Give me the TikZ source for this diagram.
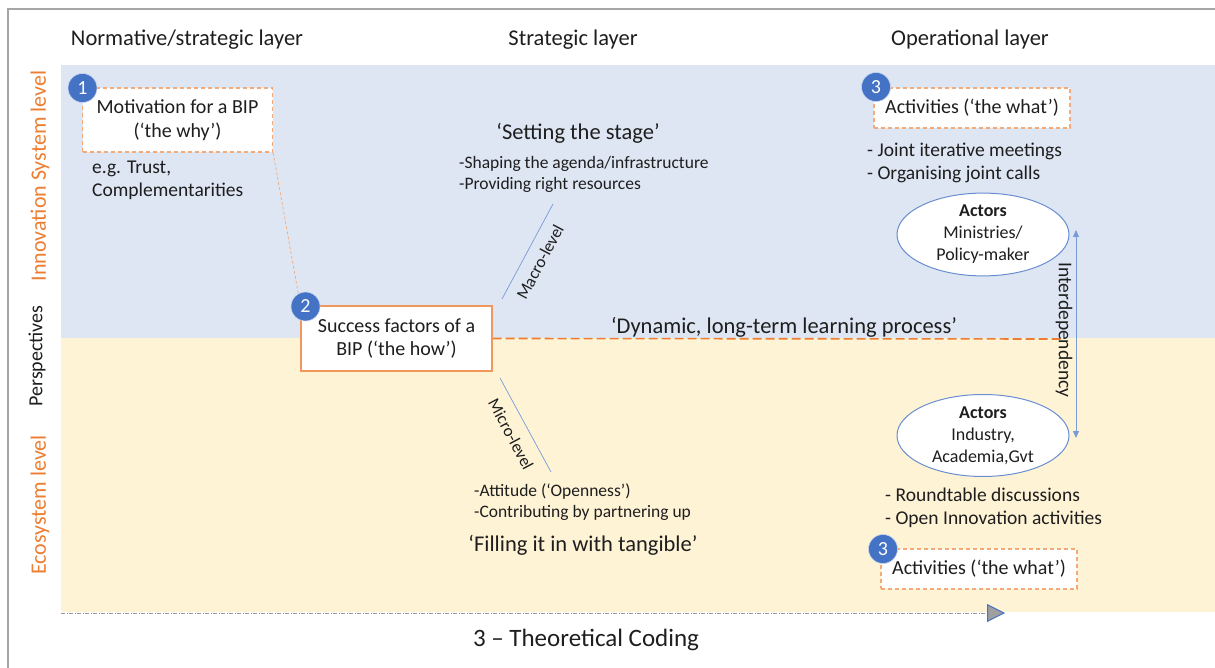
\documentclass[tikz,border=0pt]{standalone}
\usepackage{fontspec}
\setmainfont{Carlito}
\usetikzlibrary{arrows.meta,shapes.geometric,backgrounds}

\definecolor{bandblue}{RGB}{222,230,243}
\definecolor{bandyellow}{RGB}{255,243,214}
\definecolor{accent}{RGB}{237,125,49}
\definecolor{softaccent}{RGB}{244,170,120}
\definecolor{numblue}{RGB}{68,114,196}
\definecolor{linkblue}{RGB}{120,155,215}
\definecolor{framegray}{RGB}{166,166,166}
\definecolor{ink}{RGB}{30,30,30}

\tikzset{
  every node/.style={text=ink, inner sep=0pt},
  header/.style={font=\fontsize{22.5}{26}\selectfont},
  sidelabel/.style={font=\fontsize{22}{26}\selectfont, rotate=90, text=accent},
  body/.style={font=\fontsize{19.5}{23.5}\selectfont, align=left, anchor=west},
  smallbody/.style={font=\fontsize{17.5}{21.5}\selectfont, align=left, anchor=west},
  quote/.style={font=\fontsize{22.5}{26}\selectfont},
  dashbox/.style={draw=softaccent, dashed, dash pattern=on 4pt off 3pt, line width=1.2pt,
    fill=white, font=\fontsize{20}{24}\selectfont, align=center},
  solidbox/.style={draw=accent!80, line width=1.2pt, fill=white,
    font=\fontsize{20}{23}\selectfont, align=center},
  badge/.style={circle, fill=numblue, draw=white!70!numblue, line width=0.6pt,
    minimum size=29pt, text=white, font=\fontsize{20}{22}\selectfont},
  actor/.style={ellipse, draw=numblue!80, line width=1pt, fill=white,
    minimum width=172pt, minimum height=72pt, align=center,
    font=\fontsize{18}{22}\selectfont},
  levelline/.style={draw=linkblue, line width=0.7pt},
  levellabel/.style={font=\fontsize{17}{19}\selectfont}
}

\begin{document}
\begin{tikzpicture}[x=1pt, y=-1pt]
  \useasboundingbox (0,0) rectangle (1215,668);

  % frame edges
  \draw[framegray, line width=2pt] (1215,9) -- (7.5,9) -- (7.5,668);

  % column headers
  \node[header] (hnorm) at (187,40) {Normative/strategic layer};
  \node[header] (hstrat) at (573,40) {Strategic layer};
  \node[header] (hop) at (970,40) {Operational layer};

  % row labels
  \node[sidelabel] (lisys) at (40,176) {Innovation System level};
  \node[sidelabel, text=ink, font=\fontsize{20}{24}\selectfont] (lpersp) at (37,356) {Perspectives};
  \node[sidelabel] (leco) at (40,505) {Ecosystem level};

  % boxes
  \node[dashbox, minimum width=190pt, minimum height=64pt] (why) at (177.5,120)
    {Motivation for a BIP\\(‘the why’)};
  \node[solidbox, minimum width=191pt, minimum height=65pt] (how) at (396.5,338.5)
    {Success factors of a\\BIP (‘the how’)};
  \node[dashbox, minimum width=196pt, minimum height=40pt] (whattop) at (972,108)
    {Activities (‘the what’)};
  \node[dashbox, minimum width=196pt, minimum height=40pt] (whatbot) at (979,569)
    {Activities (‘the what’)};

  % numbered badges
  \node[badge] (n1) at (82.5,88) {1};
  \node[badge] (n2) at (305.5,306.5) {2};
  \node[badge] (n3a) at (876,87) {3};
  \node[badge] (n3b) at (883,549) {3};

  % texts
  \node[body] (whytxt) at (92,180.5) {e.g. Trust,\\Complementarities};
  \node[quote] (stage) at (578,133) {‘Setting the stage’};
  \node[smallbody] (stagetxt) at (459,174.5) {-Shaping the agenda/infrastructure\\-Providing right resources};
  \node[smallbody] (filltxt) at (474,502) {-Attitude (‘Openness’)\\-Contributing by partnering up};
  \node[quote] (fill) at (583,545) {‘Filling it in with tangible’};
  \node[quote] (learn) at (784,327) {‘Dynamic, long-term learning process’};
  \node[body] (optop) at (867,163) {- Joint iterative meetings\\- Organising joint calls};
  \node[body] (opbot) at (885,508) {- Roundtable discussions\\- Open Innovation activities};

  % actors
  \node[actor] (acttop) at (983,234.5) {\textbf{Actors}\\Ministries/\\Policy-maker};
  \node[actor] (actbot) at (983,435.5) {\textbf{Actors}\\Industry,\\Academia,Gvt};

  % macro / micro level strokes
  \coordinate (macroA) at (502,299);
  \coordinate (macroB) at (553,204);
  \coordinate (microA) at (500,378);
  \coordinate (microB) at (551,472);
  \draw[levelline] (macroA) -- (macroB);
  \draw[levelline] (microA) -- (microB);
  \node[levellabel, rotate=62] (macrol) at (540,262) {Macro-level};
  \node[levellabel, rotate=-62] (microl) at (511,434) {Micro-level};

  % interdependency arrow
  \coordinate (itop) at (1076,230);
  \coordinate (ibot) at (1076,438);
  \draw[linkblue, line width=0.8pt, {Triangle[length=7pt,width=6pt]}-{Triangle[length=7pt,width=6pt]}] (ibot) -- (itop);
  \node[font=\fontsize{19.5}{22}\selectfont, rotate=-90] (interd) at (1064,330) {Interdependency};

  % learning-process divider
  \coordinate (learnend) at (1061,339);

  % coding axis
  \coordinate (axisA) at (61,613);
  \coordinate (axisB) at (1005,613);
  \node[font=\fontsize{25}{29}\selectfont] (coding) at (586,640) {3 – Theoretical Coding};

  \begin{scope}[on background layer]
    \fill[bandblue] (61,65) rectangle (1215,338);
    \fill[bandyellow] (61,338) rectangle (1215,612);
    \draw[softaccent, dashed, dash pattern=on 3pt off 2pt, line width=0.7pt] (why.south east) -- (how.north west);
    \draw[accent, line width=1.6pt, dash pattern=on 9pt off 4pt] (how.east) -- (learnend);
    \draw[gray!80, line width=1pt, dash pattern=on 4pt off 1.5pt on 1pt off 1.5pt,
      -{Triangle[length=18pt,width=18pt,fill=gray!75,color=numblue,line width=1pt]}] (axisA) -- (axisB);
  \end{scope}
\end{tikzpicture}
\end{document}
